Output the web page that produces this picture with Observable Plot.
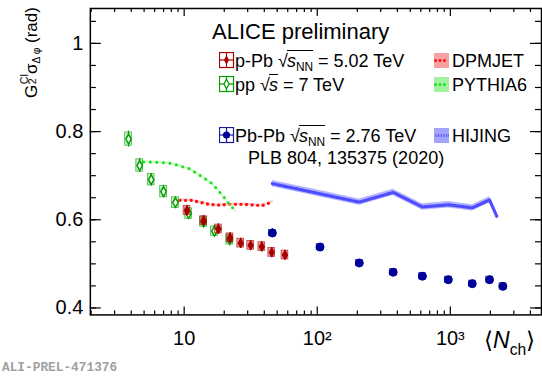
<!DOCTYPE html>
<html><head><meta charset="utf-8">
<script src="https://cdn.jsdelivr.net/npm/d3@7"></script>
<script src="https://cdn.jsdelivr.net/npm/@observablehq/plot@0.6"></script>
<style>
html,body{margin:0;padding:0;background:#fff;overflow:hidden;}
#wrap{position:relative;width:542px;height:376px;overflow:hidden;font-family:"Liberation Sans",Arial,sans-serif;color:#000;}
#wrap svg.plot{position:absolute;left:0;top:0;}
.t{position:absolute;white-space:nowrap;line-height:1;}
.ov{border-top:1.3px solid #000;margin-left:-1px;}
.t sub{font-size:0.66em;vertical-align:-0.3em;line-height:0;}
.g{position:absolute;}
</style></head><body><div id="wrap"></div>
<script>
// ---------------- data ----------------
const ppNch  = [3.82, 4.63, 5.65, 7.0, 8.6, 10.8, 14.0, 16.9, 22.0];
const ppVal  = [0.783, 0.723, 0.691, 0.664, 0.639, 0.614, 0.595, 0.574, 0.555];
const ppStat = [0.018, 0.016, 0.014, 0.014, 0.013, 0.013, 0.012, 0.012, 0.012];
const ppSys  = [0.015, 0.014, 0.013, 0.013, 0.012, 0.012, 0.011, 0.011, 0.011];

const pPbNch  = [10.5, 14.0, 18.1, 22.1, 26.6, 31.6, 38.3, 45.5, 57.2];
const pPbVal  = [0.621, 0.598, 0.579, 0.559, 0.547, 0.542, 0.539, 0.526, 0.520];
const pPbStat = [0.012, 0.012, 0.012, 0.012, 0.011, 0.011, 0.011, 0.011, 0.011];
const pPbSys  = [0.010, 0.010, 0.010, 0.010, 0.010, 0.010, 0.010, 0.010, 0.010];

const PbNch  = [46, 105, 207, 372, 617, 966, 1462, 1972, 2483];
const PbVal  = [0.570, 0.538, 0.502, 0.481, 0.472, 0.464, 0.455, 0.464, 0.449];
const PbStat = [0.010, 0.009, 0.008, 0.008, 0.008, 0.008, 0.008, 0.008, 0.008];
const PbSys  = [0.007, 0.007, 0.007, 0.007, 0.007, 0.007, 0.007, 0.007, 0.007];

const dpmNch = [9.3, 11.4, 14.8, 17.6, 22.1, 27.9, 38.3, 46.8];
const dpmVal = [0.644, 0.644, 0.636, 0.633, 0.635, 0.635, 0.632, 0.641];

const pyNch = [4.96, 6.6, 7.85, 9.06, 11.1, 13.2, 16.1, 19.7, 21.5, 24.8];
const pyVal = [0.731, 0.730, 0.728, 0.723, 0.715, 0.700, 0.683, 0.653, 0.638, 0.617];

const hijNch = [46, 105, 207, 372, 617, 966, 1462, 1972, 2240];
const hijVal = [0.682, 0.659, 0.640, 0.662, 0.629, 0.634, 0.627, 0.645, 0.607];

const xTicks = [10, 100, 1000];
const xTickLabels = ["10", "10\u00B2", "10\u00B3"];
const yTicks = [0.4, 0.6, 0.8, 1.0];
const yTickLabels = ["0.4", "0.6", "0.8", "1"];

// ---------------- layout ----------------
const W = 543, H = 376, mL = 90, mR = 1, mT = 8, mB = 61;
const iw = W - mL - mR, ih = H - mT - mB;

const pts = (xs, ys, st, sy) => xs.map((x, i) => ({x, y: ys[i], stat: st ? st[i] : 0, sys: sy ? sy[i] : 0}));
const pp = pts(ppNch, ppVal, ppStat, ppSys);
const pPb = pts(pPbNch, pPbVal, pPbStat, pPbSys);
const PbPb = pts(PbNch, PbVal, PbStat, PbSys);
const dpm = pts(dpmNch, dpmVal);
const py = pts(pyNch, pyVal);
const hij = pts(hijNch, hijVal);

const yAll = d3.range(0, 14).map(i => +(0.4 + 0.05 * i).toFixed(2));
const xAll = [];
for (let e = 0; e <= 3; e++) for (let k = 1; k <= 9; k++) { const v = k * 10 ** e; if (v >= 2 && v <= 4800) xAll.push(v); }
const xMin = xAll.filter(v => !xTicks.includes(v));

const cRed = "#a80000", cGreen = "#00a000", cBlue = "#000099";
const bw = 1.06;

function dataMarks(data, col, boxFill, symbol, r, fill, sw) {
  return [
    Plot.rect(data, {x1: d => d.x / bw, x2: d => d.x * bw, y1: d => d.y - d.sys, y2: d => d.y + d.sys,
      fill: boxFill, stroke: col, strokeWidth: 0.8, strokeOpacity: 0.7}),
    Plot.ruleX(data, {x: "x", y1: d => d.y - d.stat, y2: d => d.y + d.stat, stroke: col, strokeWidth: 1.3}),
    Plot.dot(data, {x: "x", y: "y", symbol, r, fill, stroke: col, strokeWidth: sw})
  ];
}

const chart = Plot.plot({
  width: W, height: H, marginLeft: mL, marginRight: mR, marginTop: mT, marginBottom: mB,
  style: {fontFamily: "'Liberation Sans', Arial, sans-serif", fontSize: "20px", background: "transparent", color: "#000"},
  x: {type: "log", domain: [1.972, 4842]},
  y: {domain: [0.3842, 1.0792]},
  marks: [
    // model bands / lines
    Plot.areaY(hij, {x: "x", y1: d => d.y - 0.0072, y2: d => d.y + 0.0072, fill: "#b4b4ff"}),
    Plot.line(hij, {x: "x", y: "y", stroke: "#4d4dff", strokeWidth: 3.2, strokeDasharray: "1.2 1.8"}),
    Plot.areaY(dpm, {x: "x", y1: d => d.y - 0.003, y2: d => d.y + 0.003, fill: "#ffb0b0", fillOpacity: 0.6}),
    Plot.line(dpm, {x: "x", y: "y", stroke: "#ff1010", strokeWidth: 3.4, strokeDasharray: "0 5.6", strokeLinecap: "round"}),
    Plot.areaY(py, {x: "x", y1: d => d.y - 0.003, y2: d => d.y + 0.003, fill: "#b0ffb0", fillOpacity: 0.6}),
    Plot.line(py, {x: "x", y: "y", stroke: "#22e022", strokeWidth: 3.2, strokeDasharray: "0 6.6", strokeLinecap: "round"}),
    // data
    ...dataMarks(pp, cGreen, "rgba(0,170,0,0.22)", "diamond", 2.9, "#fff", 1.5),
    ...dataMarks(pPb, cRed, "rgba(190,0,0,0.35)", "diamond", 2.9, cRed, 1),
    ...dataMarks(PbPb, cBlue, "rgba(60,60,255,0.3)", "circle", 4, cBlue, 1),
    // ticks (inward, ROOT style)
    Plot.tickY(yAll, {y: d => d, insetRight: iw - 6, stroke: "#000", strokeWidth: 1.2}),
    Plot.tickY(yTicks, {y: d => d, insetRight: iw - 11, stroke: "#000", strokeWidth: 1.2}),
    Plot.tickY(yAll, {y: d => d, insetLeft: iw - 6, stroke: "#000", strokeWidth: 1.2}),
    Plot.tickY(yTicks, {y: d => d, insetLeft: iw - 11, stroke: "#000", strokeWidth: 1.2}),
    Plot.tickX(xMin, {x: d => d, insetTop: ih - 4, stroke: "#000", strokeWidth: 1.2}),
    Plot.tickX(xTicks, {x: d => d, insetTop: ih - 8, stroke: "#000", strokeWidth: 1.2}),
    Plot.tickX(xMin, {x: d => d, insetBottom: ih - 4, stroke: "#000", strokeWidth: 1.2}),
    Plot.tickX(xTicks, {x: d => d, insetBottom: ih - 8, stroke: "#000", strokeWidth: 1.2}),
    Plot.frame({stroke: "#000", strokeWidth: 1.5}),
    Plot.axisY({ticks: yTicks, tickSize: 0, tickPadding: 7, fontSize: 20,
      tickFormat: d => yTickLabels[yTicks.findIndex(t => Math.abs(t - d) < 1e-9)], label: null}),
    Plot.axisX({ticks: xTicks, tickSize: 0, tickPadding: 16, fontSize: 20,
      tickFormat: d => xTickLabels[xTicks.indexOf(d)], label: null})
  ]
});
chart.classList.add("plot");
const wrap = document.getElementById("wrap");
wrap.appendChild(chart);

// ---------------- text & legend overlay ----------------
function txt(html, left, baseline, fs, extra = "") {
  const d = document.createElement("div");
  d.className = "t";
  d.style.cssText = `left:${left}px;top:${baseline - 0.8465 * fs}px;font-size:${fs}px;${extra}`;
  d.innerHTML = html;
  wrap.appendChild(d);
  return d;
}
function glyph(svgInner, left, top, w, h) {
  const s = document.createElementNS("http://www.w3.org/2000/svg", "svg");
  s.setAttribute("width", w); s.setAttribute("height", h);
  s.setAttribute("class", "g");
  s.style.left = left + "px"; s.style.top = top + "px";
  s.innerHTML = svgInner;
  wrap.appendChild(s);
}
const sq = `<span>\u221A</span><span class="ov"><i>s</i><sub>NN</sub></span>`;
const sq1 = `<span>\u221A</span><span class="ov"><i>s</i></span>`;

txt("ALICE preliminary", 212, 40, 22);
txt(`p-Pb ${sq} = 5.02 TeV`, 235, 67, 18);
txt(`pp ${sq1} = 7 TeV`, 235, 91, 18);
txt(`Pb-Pb ${sq} = 2.76 TeV`, 235, 142, 18);
txt("PLB 804, 135375 (2020)", 248, 164, 18);
txt("DPMJET", 452, 67, 18);
txt("PYTHIA6", 452, 91, 18);
txt("HIJING", 452, 142, 18);

function dataGlyph(col, fill, marker) {
  return `<rect x="0.5" y="0.5" width="14" height="15" fill="${fill}" stroke="${col}" stroke-width="1.2"/>
    <line x1="0.5" x2="14.5" y1="8" y2="8" stroke="${col}" stroke-width="1.2"/>
    <line x1="7.5" x2="7.5" y1="0.5" y2="15.5" stroke="${col}" stroke-width="1.2"/>${marker}`;
}
glyph(dataGlyph(cRed, "#fff", `<path d="M7.5,3.3L10,8L7.5,12.7L5,8Z" fill="${cRed}"/>`), 219, 52, 16, 17);
glyph(dataGlyph(cGreen, "#fff", `<path d="M7.5,3.3L10,8L7.5,12.7L5,8Z" fill="#fff" stroke="${cGreen}" stroke-width="1.3"/>`), 219, 76, 16, 17);
glyph(dataGlyph("#1a1aa0", "#fff", `<circle cx="7.5" cy="8" r="3.6" fill="${cBlue}"/>`), 219, 127, 16, 17);

function modelGlyph(fillc, linec, dash, sw) {
  return `<rect x="0" y="0" width="15" height="15" fill="${fillc}"/>
    <line x1="1.5" x2="15" y1="7.5" y2="7.5" stroke="${linec}" stroke-width="${sw}" stroke-dasharray="${dash}" stroke-linecap="round"/>`;
}
glyph(modelGlyph("#f6a0a0", "#ff1010", "0 4.5", 3), 434, 53, 15, 15);
glyph(modelGlyph("#a0f0a0", "#22e022", "0 4.5", 3), 434, 77, 15, 15);
glyph(modelGlyph("#a4a4ff", "#4d4dff", "1 1.6", 3).replace('stroke-linecap="round"', ''), 434, 128, 15, 15);

// axis titles
const yl = txt(`G<span style="position:relative;display:inline-block;width:0.64em">&nbsp;<span style="position:absolute;left:0.04em;top:-0.36em;font-size:0.62em">CI</span><span style="position:absolute;left:0.04em;top:0.4em;font-size:0.62em">2</span></span>\u03C3<sub style="font-size:0.6em;vertical-align:-0.35em">\u0394 \u03C6</sub> (rad)`, 0, 0, 17);
yl.style.left = "0px"; yl.style.top = "0px";
yl.style.transformOrigin = "0 0";
yl.style.transform = `translate(${22.5}px, ${98}px) rotate(-90deg)`;

txt(`\u27E8<i>N</i><sub style="font-size:0.68em;vertical-align:-0.45em">ch</sub>\u27E9`, 484, 348, 23);
txt("ALI-PREL-471376", 2, 373, 12.8, "font-family:'Liberation Mono','Courier New',monospace;font-weight:bold;color:#a0a0a0;");
</script></body></html>
